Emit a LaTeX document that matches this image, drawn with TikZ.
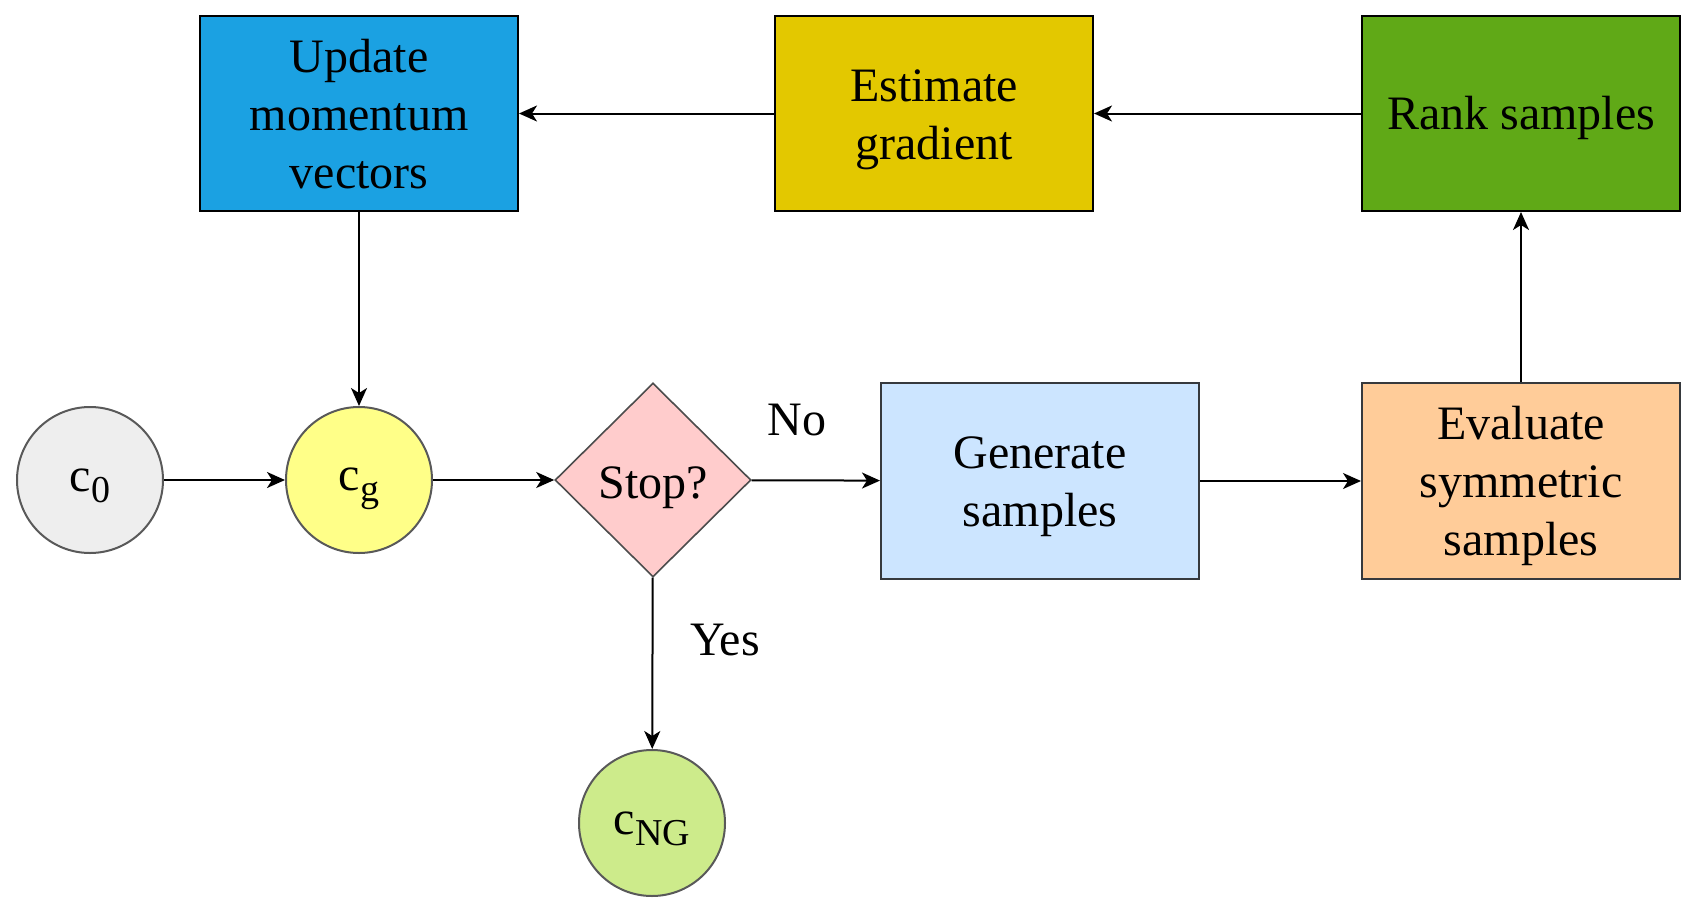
\documentclass[tikz,border=0pt]{standalone}
\usepackage{fontspec}
\setmainfont{Liberation Serif}
\usetikzlibrary{shapes.geometric,arrows.meta}
\definecolor{cgray}{HTML}{EEEEEE}
\definecolor{cyellow}{HTML}{FFFF88}
\definecolor{cgreen}{HTML}{CDEB8B}
\definecolor{cpink}{HTML}{FFCCCC}
\definecolor{clblue}{HTML}{CCE5FF}
\definecolor{corange}{HTML}{FFCC99}
\definecolor{cblue}{HTML}{1BA1E2}
\definecolor{cgold}{HTML}{E3C800}
\definecolor{cdgreen}{HTML}{60A917}
\definecolor{cstroke}{HTML}{36393D}
\newcommand{\subtxt}[1]{\raisebox{-0.22em}{\fontsize{38}{38}\selectfont #1}}
\newcommand{\lowered}[2]{\raisebox{-#1pt}[\height][\depth]{\begin{tabular}{@{}c@{}}#2\end{tabular}}}
\begin{document}
\begin{tikzpicture}[x=1pt,y=-1pt,
  every node/.style={font=\fontsize{48}{58}\selectfont},
  box/.style={draw, line width=2pt, minimum width=318pt, minimum height=195pt, inner sep=0pt, align=center},
  circ/.style={circle, draw=black!65, line width=2pt, minimum size=146pt, inner sep=0pt},
  dec/.style={diamond, draw=black!70, line width=1.6pt, fill=cpink, minimum width=196pt, minimum height=194pt, inner sep=0pt},
  arr/.style={-{Stealth[length=18pt,width=16pt,inset=5pt]}, line width=2pt},
  lbl/.style={inner sep=0pt}]
\useasboundingbox (0,0) rectangle (1695,913);
\node[box, fill=cblue] (upd) at (359,113.5) {\lowered{5.4}{Update\\momentum\\vectors}};
\node[box, fill=cgold] (est) at (934,113.5) {\lowered{5.4}{Estimate\\gradient}};
\node[box, fill=cdgreen] (rank) at (1521,113.5) {\lowered{4.5}{Rank samples}};
\node[box, fill=clblue, draw=cstroke, minimum height=196pt] (gen) at (1040,481) {\lowered{4.5}{Generate\\samples}};
\node[box, fill=corange, draw=cstroke, minimum height=196pt] (eval) at (1521,481) {\lowered{4.5}{Evaluate\\symmetric\\samples}};
\node[circ, fill=cgray] (c0) at (90,480) {\lowered{0}{c\subtxt{0}}};
\node[circ, fill=cyellow] (cg) at (359,480) {\lowered{0}{c\subtxt{g}}};
\node[circ, fill=cgreen] (cng) at (652,823) {\lowered{0}{c\subtxt{NG}}};
\node[dec] (stop) at (653,480) {\lowered{6.5}{Stop?}};
\node[lbl] (no) at (797,420) {No};
\node[lbl] (yes) at (725,640) {Yes};
\draw[arr] (c0) -- (cg);
\draw[arr] (cg) -- (stop);
\draw[arr] (stop) -- (gen);
\draw[arr] (gen) -- (eval);
\draw[arr] (eval) -- (rank);
\draw[arr] (rank) -- (est);
\draw[arr] (est) -- (upd);
\draw[arr] (upd) -- (cg);
\draw[arr] (stop) -- (cng);
\end{tikzpicture}
\end{document}
